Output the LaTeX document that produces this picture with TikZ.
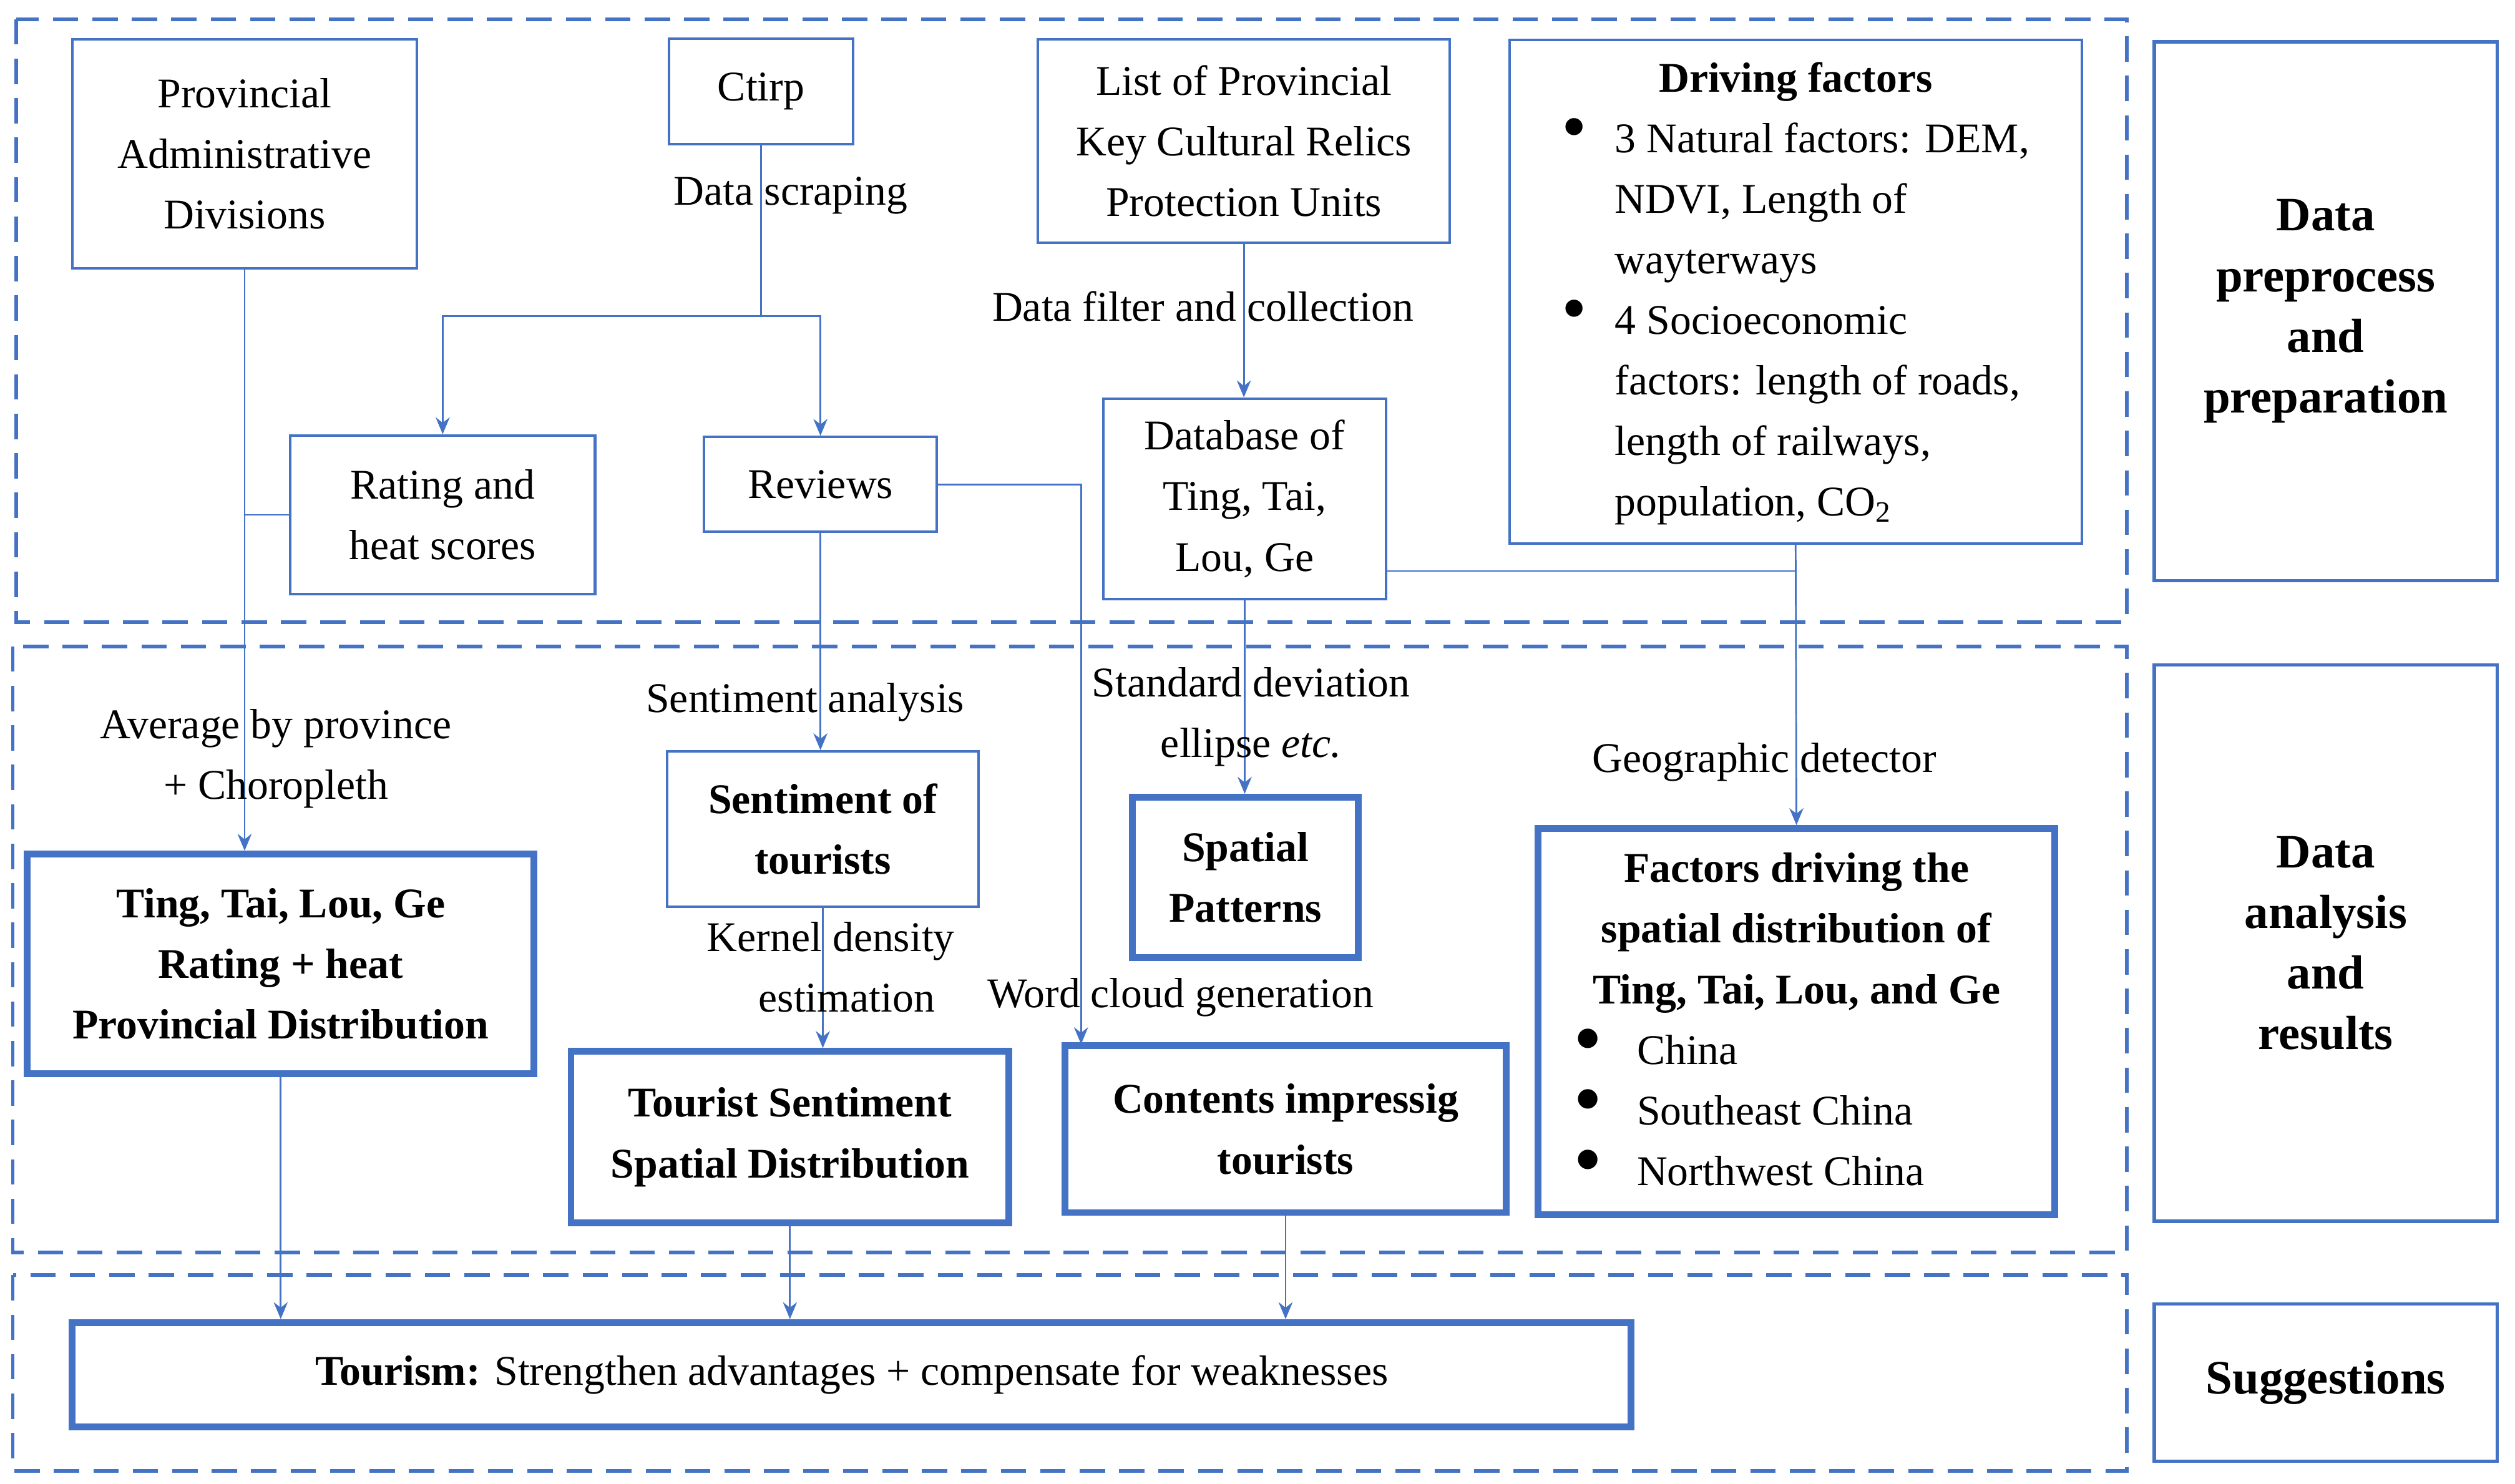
\documentclass[tikz,border=0pt]{standalone}
\usepackage{fontspec}
\usepackage{graphicx}
\setmainfont{Liberation Serif}
\usetikzlibrary{arrows.meta,calc}
\definecolor{bl}{HTML}{4472C4}
\newcommand{\bul}{\raisebox{0.1ex}{\scalebox{1.7}{\textbullet}}}
\begin{document}
\begin{tikzpicture}[x=0.02cm,y=-0.02cm,
  every node/.style={font=\fontsize{15}{21.5}\selectfont, inner sep=0pt},
  box/.style={draw=bl, line width=0.9pt, align=center},
  tbox/.style={draw=bl, line width=2.4pt, align=center, font=\fontsize{15}{21.5}\selectfont\bfseries},
  sect/.style={draw=bl, line width=1.3pt, dash pattern=on 9pt off 5pt},
  side/.style={draw=bl, line width=1.2pt, align=center, minimum width=4.28cm, font=\fontsize{17}{21.5}\selectfont\bfseries},
  con/.style={draw=bl, line width=0.6pt},
  arr/.style={con, -{Stealth[length=6pt,width=5pt]}},
  lab/.style={align=center}]
\useasboundingbox (0,0) rectangle (1568,925);
% sections
\draw[sect] (10,12) rectangle (1326,388);
\draw[sect] (8,403) rectangle (1326,781);
\draw[sect] (8,795) rectangle (1326,917);
\node[side, minimum height=6.72cm] (r1) at (1450,194) {Data\\preprocess\\and\\preparation};
\node[side, minimum height=6.94cm] (r2) at (1450,588) {Data\\analysis\\and\\results};
\node[side, minimum height=1.96cm] (r3) at (1450,862) {Suggestions};
% nodes
\node[box, minimum width=4.3cm, minimum height=2.86cm] (pad) at (152.5,96) {Provincial\\Administrative\\Divisions};
\node[box, minimum width=2.3cm, minimum height=1.32cm] (ctirp) at (474.5,57) {Ctirp};
\node[box, minimum width=5.14cm, minimum height=2.54cm] (list) at (775.5,88) {List of Provincial\\Key Cultural Relics\\Protection Units};
\node[box, minimum width=7.14cm, minimum height=6.28cm] (driving) at (1119.5,182) {\begin{tabular}{@{}l@{\hspace{0.35cm}}l@{}}
\multicolumn{2}{c}{\textbf{Driving factors}}\\
\bul & 3 Natural factors: DEM,\\
 & NDVI, Length of\\
 & wayterways\\
\bul & 4 Socioeconomic\\
 & factors: length of roads,\\
 & length of railways,\\
 & population, CO\textsubscript{2}
\end{tabular}};
\node[box, minimum width=3.8cm, minimum height=1.98cm] (rating) at (276,321) {Rating and\\heat scores};
\node[box, minimum width=2.9cm, minimum height=1.18cm] (reviews) at (511.5,302) {Reviews};
\node[box, minimum width=3.52cm, minimum height=2.5cm] (database) at (776,311) {Database of\\Ting, Tai,\\Lou, Ge};
\node[tbox, minimum width=6.32cm, minimum height=2.74cm] (ttlg) at (175,601) {Ting, Tai, Lou, Ge\\Rating + heat\\Provincial Distribution};
\node[box, font=\fontsize{15}{21.5}\selectfont\bfseries, minimum width=3.88cm, minimum height=1.94cm] (sentiment) at (513,517) {Sentiment of\\tourists};
\node[tbox, minimum width=2.82cm, minimum height=2.0cm] (spatial) at (776.5,547) {Spatial\\Patterns};
\node[tbox, minimum width=6.44cm, minimum height=4.82cm] (factors) at (1120,637) {\begin{tabular}{@{}l@{\hspace{0.45cm}}l@{}}
\multicolumn{2}{c}{\textbf{Factors driving the}}\\
\multicolumn{2}{c}{\textbf{spatial distribution of}}\\
\multicolumn{2}{c}{\textbf{Ting, Tai, Lou, and Ge}}\\
\bul & \mdseries China\\
\bul & \mdseries Southeast China\\
\bul & \mdseries Northwest China
\end{tabular}};
\node[tbox, minimum width=5.46cm, minimum height=2.14cm] (tsent) at (492.5,709) {Tourist Sentiment\\Spatial Distribution};
\node[tbox, minimum width=5.5cm, minimum height=2.08cm] (contents) at (801.5,704) {Contents impressig\\tourists};
\node[tbox, minimum width=19.44cm, minimum height=1.3cm] (tourism) at (531,857) {Tourism: \mdseries Strengthen advantages + compensate for weaknesses};
% connectors
\coordinate (split) at (474.5,197);
\draw[con] (ctirp.south) -- (split);
\draw[arr] (split) -| (rating.north);
\draw[arr] (split) -| (reviews.north);
\draw[arr] (pad.south) -- (pad.south |- ttlg.north);
\draw[con] (rating.west) -- (rating.west -| pad.south);
\draw[arr] (list.south) -- (list.south |- database.north);
\coordinate (wc) at (674,651);
\draw[arr] (reviews.east) -| (wc);
\draw[arr] (reviews.south) -- (reviews.south |- sentiment.north);
\draw[arr] (sentiment.south) -- (sentiment.south |- tsent.north);
\draw[arr] (database.south) -- (database.south |- spatial.north);
\coordinate (dbr) at (864,356);
\draw[con] (dbr) -- (dbr -| driving.south);
\draw[arr] (driving.south) -- (factors.north);
\draw[arr] (ttlg.south) -- (ttlg.south |- tourism.north);
\draw[arr] (tsent.south) -- (tsent.south |- tourism.north);
\draw[arr] (contents.south) -- (contents.south |- tourism.north);
% labels
\node[lab] at (493,122) {Data scraping};
\node[lab] at (750,191) {Data filter and collection};
\node[lab] at (172,473) {Average by province\\+ Choropleth};
\node[lab] at (502,438) {Sentiment analysis};
\node[lab] at (518,603) {Kernel density\\\ \ \ estimation};
\node[lab] at (780,447) {Standard deviation\\ellipse \textit{etc.}};
\node[lab] at (1100,475) {Geographic detector};
\node[lab] at (736,622) {Word cloud generation};
\end{tikzpicture}
\end{document}
